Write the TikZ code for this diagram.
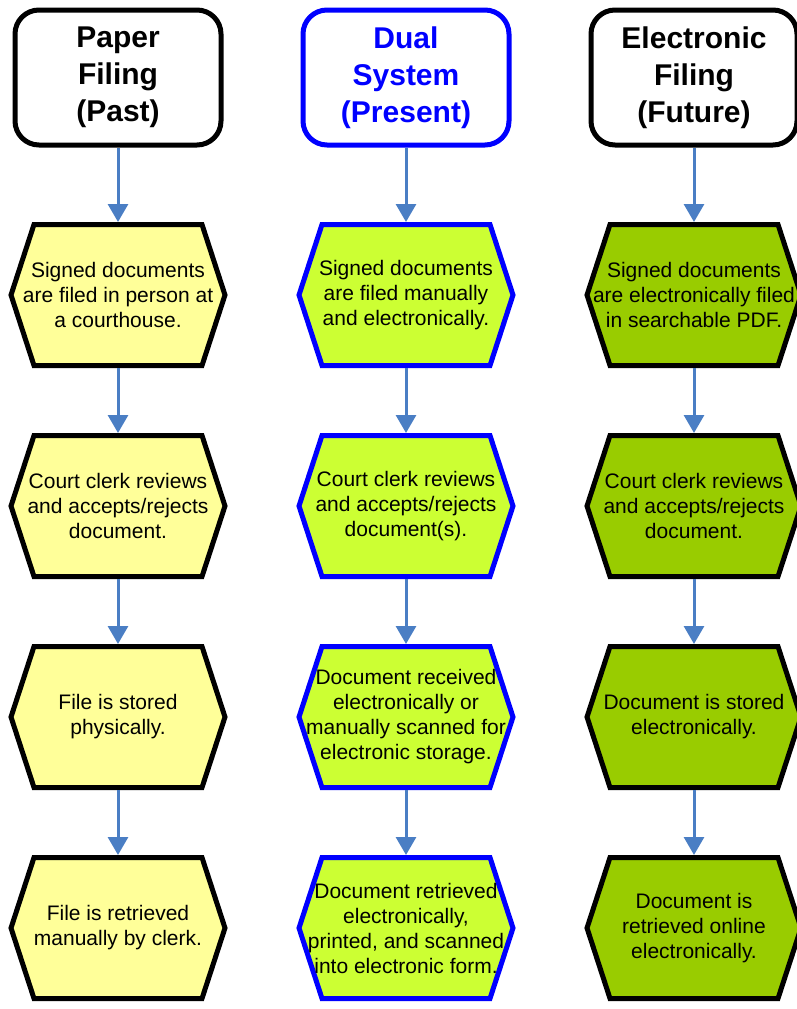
\documentclass[tikz,border=0pt]{standalone}
\usepackage{fontspec}
\setmainfont{Liberation Sans}
\usetikzlibrary{positioning,backgrounds,arrows.meta}
\definecolor{paperfill}{HTML}{FFFF99}
\definecolor{dualfill}{HTML}{CCFF33}
\definecolor{efilefill}{HTML}{99CC00}
\definecolor{dualblue}{HTML}{0000FF}
\definecolor{flowblue}{HTML}{4A7EC4}
\begin{document}
\begin{tikzpicture}
    [x=1pt, y=1pt, node distance=65pt,
    head/.style={draw, line width=5pt, rounded corners=24pt, fill=white,
      minimum width=206pt, minimum height=135pt, inner sep=0pt, align=center,
      font=\fontsize{30}{37}\selectfont\bfseries},
    stage/.style={minimum width=220pt, minimum height=146pt, inner sep=0pt,
      outer sep=0pt, align=center, font=\fontsize{21}{25}\selectfont},
    hexa/.style={line width=5pt, line join=miter},
    flow/.style={draw=flowblue, line width=3pt, -{Triangle[width=20pt,length=18pt]}}]
  \useasboundingbox (0,-1009) rectangle (797,0);

  % headers
  \node [head] (past) at (118,-77.5) {Paper\\ Filing\\ (Past)};
  \node [head, draw=dualblue, text=dualblue] (present) at (406,-77.5) {Dual\\ System\\ (Present)};
  \node [head] (future) at (694,-77.5) {Electronic\\ Filing\\ (Future)};

  % paper filing
  \node [stage] (p1) at (118,-295) {Signed documents\\ are filed in person at\\ a courthouse.};
  \node [stage] (p2) [below=of p1] {Court clerk reviews\\ and accepts/rejects\\ document.};
  \node [stage] (p3) [below=of p2] {File is stored\\ physically.};
  \node [stage] (p4) [below=of p3] {File is retrieved\\ manually by clerk.};

  % dual system
  \node [stage] (d1) at (406,-295) {Signed documents\\ are filed manually\\ and electronically.};
  \node [stage] (d2) [below=of d1] {Court clerk reviews\\ and accepts/rejects\\ document(s).};
  \node [stage] (d3) [below=of d2] {Document received\\ electronically or\\ manually scanned for\\ electronic storage.};
  \node [stage] (d4) [below=of d3] {Document retrieved\\ electronically,\\ printed, and scanned\\ into electronic form.};

  % electronic filing
  \node [stage] (e1) at (694,-295) {Signed documents\\ are electronically filed\\ in searchable PDF.};
  \node [stage] (e2) [below=of e1] {Court clerk reviews\\ and accepts/rejects\\ document.};
  \node [stage] (e3) [below=of e2] {Document is stored\\ electronically.};
  \node [stage] (e4) [below=of e3] {Document is\\ retrieved online\\ electronically.};

  % hexagons behind the texts
  \begin{scope}[on background layer]
    \foreach \col/\fcol/\dcol in {p/paperfill/black, d/dualfill/dualblue, e/efilefill/black}
      \foreach \r in {1,...,4}
        \draw [hexa, fill=\fcol, draw=\dcol]
          ([xshift=3pt]\col\r.west) -- ([xshift=26pt,yshift=-2.5pt]\col\r.north west)
          -- ([xshift=-26pt,yshift=-2.5pt]\col\r.north east) -- ([xshift=-3pt]\col\r.east)
          -- ([xshift=-26pt,yshift=2.5pt]\col\r.south east)
          -- ([xshift=26pt,yshift=2.5pt]\col\r.south west) -- cycle;
  \end{scope}

  \draw [flow] (past) -- (p1);
  \draw [flow] (p1) -- (p2);
  \draw [flow] (p2) -- (p3);
  \draw [flow] (p3) -- (p4);
  \draw [flow] (present) -- (d1);
  \draw [flow] (d1) -- (d2);
  \draw [flow] (d2) -- (d3);
  \draw [flow] (d3) -- (d4);
  \draw [flow] (future) -- (e1);
  \draw [flow] (e1) -- (e2);
  \draw [flow] (e2) -- (e3);
  \draw [flow] (e3) -- (e4);
\end{tikzpicture}
\end{document}
